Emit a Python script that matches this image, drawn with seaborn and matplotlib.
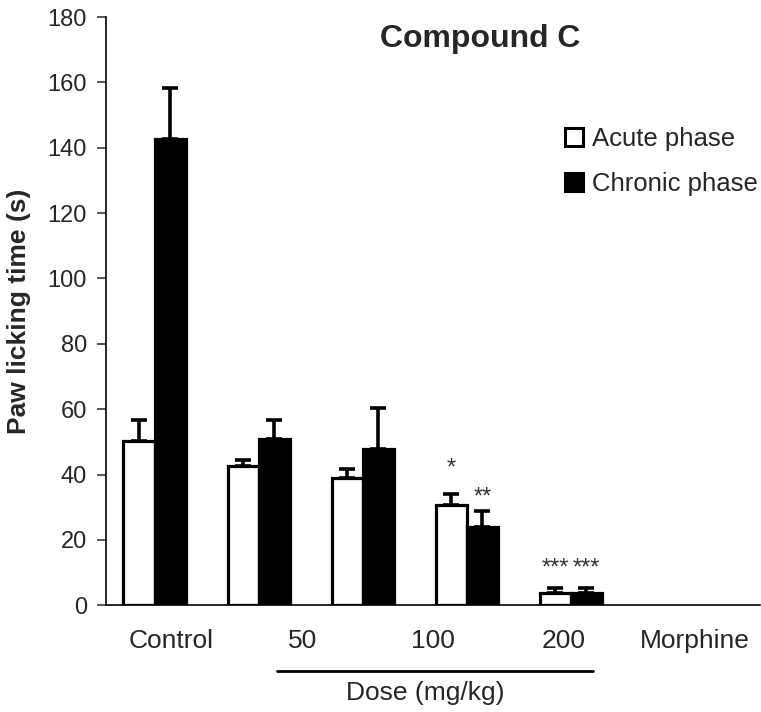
import matplotlib
matplotlib.use("Agg")
import matplotlib.pyplot as plt
import matplotlib.patches as mpatches
import matplotlib.transforms as mtransforms
import numpy as np
import pandas as pd
import seaborn as sns

# data
groups = ["Control", "50", "100", "200", "Morphine"]
phases = ["Acute phase", "Chronic phase"]
acute_mean = [50.2, 42.6, 38.9, 30.6, 3.8]
acute_err = [6.6, 1.7, 2.9, 3.3, 1.6]
chronic_mean = [142.6, 50.9, 47.9, 24.0, 3.8]
chronic_err = [15.6, 5.9, 12.4, 4.8, 1.6]
acute_stars = ["", "", "", "*", "***"]
chronic_stars = ["", "", "", "**", "***"]
y_ticks = [0, 20, 40, 60, 80, 100, 120, 140, 160, 180]

sns.set_style("white")
plt.rcParams["font.family"] = ["Liberation Sans", "DejaVu Sans"]

df = pd.DataFrame({
    "group": groups * 2,
    "phase": [phases[0]] * len(groups) + [phases[1]] * len(groups),
    "value": acute_mean + chronic_mean,
})

fig = plt.figure(figsize=(7.61, 7.12), dpi=100)
ax = fig.add_axes([0.139, 0.150, 0.860, 0.826])

sns.barplot(data=df, x="group", y="value", hue="phase", order=groups,
            hue_order=phases, palette=["white", "black"], width=0.6,
            edgecolor="black", linewidth=2.3, errorbar=None, legend=False,
            ax=ax)

# one-sided (upward) error bars and significance stars
star_gap = {"*": 6.0, "**": 2.2, "***": 4.0}
for cont, err, stars in zip(ax.containers, [acute_err, chronic_err],
                            [acute_stars, chronic_stars]):
    xs = [p.get_x() + p.get_width() / 2 for p in cont.patches]
    tops = [p.get_height() for p in cont.patches]
    ax.errorbar(xs, tops, yerr=[np.zeros(len(err)), err], fmt="none",
                ecolor="black", elinewidth=2.6, capsize=6, capthick=2.6,
                zorder=3)
    for x, t, e, s in zip(xs, tops, err, stars):
        if s:
            ax.text(x, t + e + star_gap[s], s, ha="center", va="baseline",
                    fontsize=17, color="#333333")

xmin, xmax = -0.47, 5.82
ax.set_xlim(xmin, xmax)
ax.set_ylim(0, 180)
ax.set_yticks(y_ticks)
# category labels sit in equal slots across the whole axis width
slot = (xmax - xmin) / len(groups)
ax.set_xticks(xmin + slot * (np.arange(len(groups)) + 0.5))
ax.set_xticklabels(groups)
ax.set_xlabel("")
ax.set_ylabel("Paw licking time (s)", fontsize=19, fontweight="bold",
              labelpad=12)
ax.tick_params(axis="y", direction="out", length=6.5, width=1.1,
               labelsize=17, pad=7, left=True)
ax.tick_params(axis="x", length=0, labelsize=19, pad=17)
sns.despine(ax=ax)
for side in ["left", "bottom"]:
    ax.spines[side].set_linewidth(1.2)
    ax.spines[side].set_color("black")

ax.text(0.572, 0.962, "Compound C", transform=ax.transAxes, ha="center",
        va="center", fontsize=23, fontweight="bold")

# dose bracket under the x axis
trans = mtransforms.blended_transform_factory(ax.transData, ax.transAxes)
ax.plot([1.18, 4.21], [-0.112, -0.112], color="black", lw=2,
        transform=trans, clip_on=False)
ax.text(2.6, -0.15, "Dose (mg/kg)", transform=trans, ha="center",
        va="center", fontsize=19)

handles = [mpatches.Patch(facecolor="white", edgecolor="black", linewidth=2.2),
           mpatches.Patch(facecolor="black", edgecolor="black", linewidth=2.2)]
ax.legend(handles, phases, loc="upper left", bbox_to_anchor=(0.702, 0.813),
          frameon=False, fontsize=18.5, handlelength=0.7, handleheight=0.7,
          handletextpad=0.35, labelspacing=0.8, borderpad=0,
          borderaxespad=0)

fig.savefig("out.png", dpi=100)
